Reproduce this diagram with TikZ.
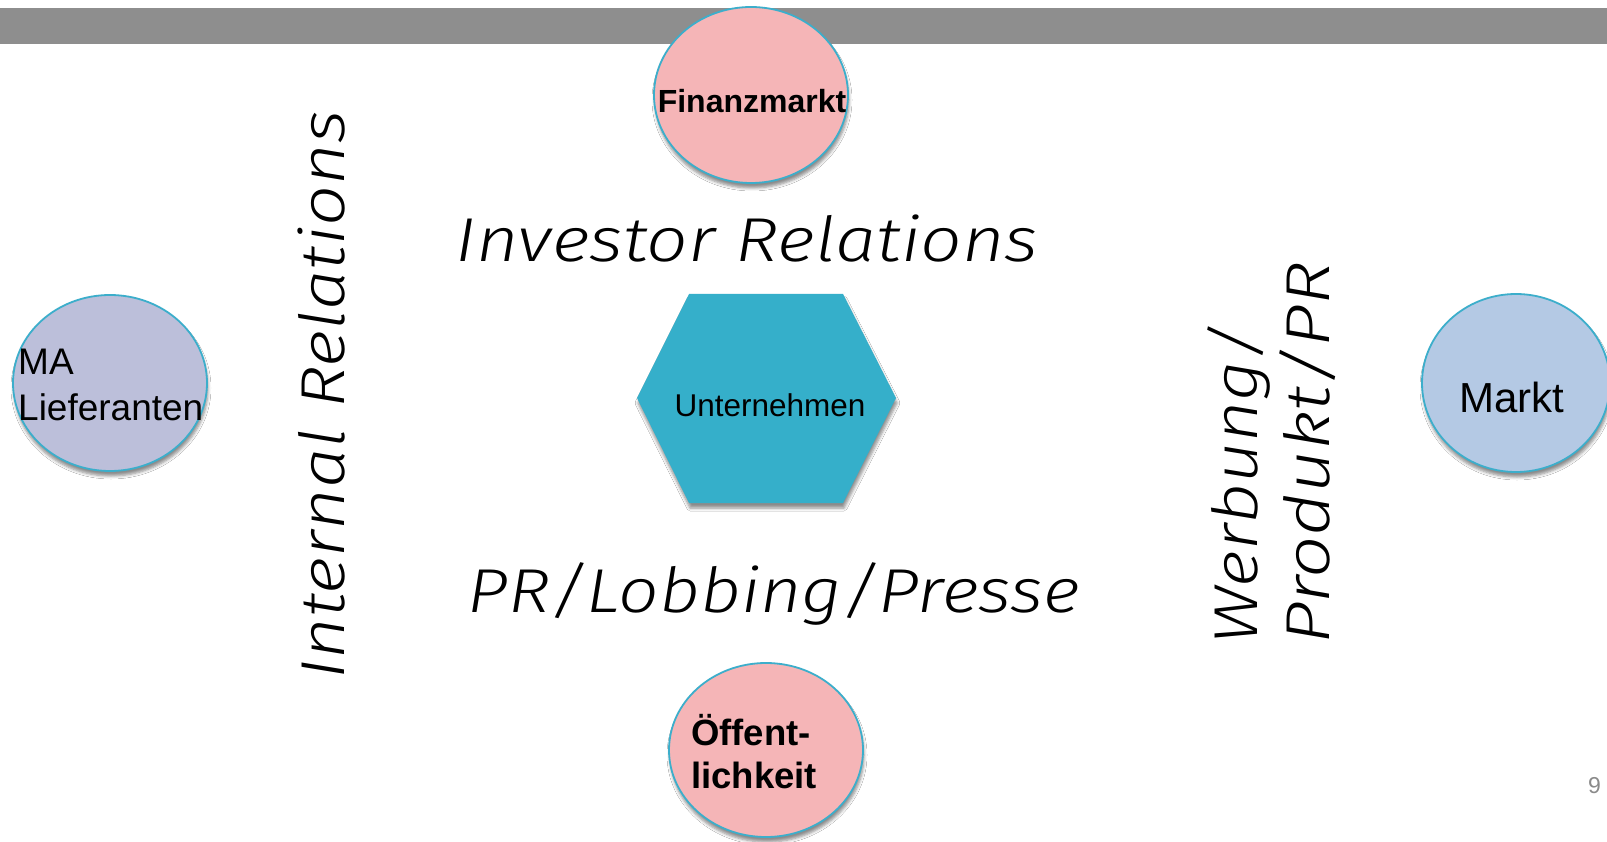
\documentclass[tikz,border=0pt]{standalone}
\usepackage{fontspec}
\usepackage{graphicx}
\setmainfont{Liberation Sans}
\newfontfamily\handfont{Fira Sans Light Italic}
\usetikzlibrary{shapes.geometric,shadows.blur}

\definecolor{barGray}{HTML}{8E8E8E}
\definecolor{rimBlue}{HTML}{3CAECB}
\definecolor{pinkFill}{HTML}{F5B5B7}
\definecolor{lilacFill}{HTML}{BCBFDA}
\definecolor{skyFill}{HTML}{B4C9E4}
\definecolor{hexFill}{HTML}{35AFCA}
\definecolor{pageGray}{HTML}{8A8A8A}

\newcommand{\wide}[2]{\scalebox{#1}[1]{#2}}

\tikzset{
  softshadow/.style={blur shadow={shadow xshift=1pt, shadow yshift=-5pt,
      shadow blur radius=3pt, shadow blur steps=5, shadow opacity=45}},
  partner/.style={ellipse, draw=rimBlue, line width=1.8pt, inner sep=0pt,
      minimum width=194pt, minimum height=176pt, softshadow},
  plainlbl/.style={inner sep=0pt, text=black, font=\fontsize{37}{46}\selectfont},
  boldlbl/.style={inner sep=0pt, text=black, font=\bfseries\fontsize{32}{40}\selectfont},
  hand/.style={inner sep=0pt, text=black, font=\handfont\fontsize{62}{72}\selectfont},
}

\begin{document}
\begin{tikzpicture}[x=1pt, y=-1pt]
\useasboundingbox (0,0) rectangle (1607,842);
\fill[white] (0,0) rectangle (1607,842);

% title bar
\fill[barGray] (0,8) rectangle (1607,44);

% the company in the middle
\path[fill=hexFill, softshadow]
  (689,294) -- (843,294) -- (896,398) -- (843,503) -- (689,503) -- (637,398) -- cycle;
\node[inner sep=0pt, font=\fontsize{31.5}{38}\selectfont, anchor=base] (unt) at (770,417) {Unternehmen};

% stakeholder groups
\node[partner, fill=pinkFill] (fin) at (751,95) {};
\node[boldlbl, anchor=base] (finlbl) at (752,113) {Finanzmarkt};

\node[partner, fill=lilacFill] (ma) at (110,383) {};
\node[plainlbl, anchor=base west, align=left] (malbl) at (18,420) {MA\\Lieferanten};

\node[partner, fill=skyFill, minimum width=188pt, minimum height=178pt] (mkt) at (1516,383) {};
\node[inner sep=0pt, font=\fontsize{42}{50}\selectfont, anchor=base] (mktlbl) at (1512,412) {Markt};

\node[partner, fill=pinkFill, minimum height=174pt] (oef) at (766,750) {};
\node[inner sep=0pt, anchor=base west, align=left,
      font=\bfseries\fontsize{36.5}{43}\selectfont] (oeflbl) at (691,788) {Öffent-\\lichkeit};

% relation channels
\node[hand] (inv) at (747,238) {\wide{1.18}{Investor Relations}};
\node[hand] (prl) at (774,594) {\wide{1.15}{PR/Lobbing/Presse}};
\node[hand, rotate=90] (int) at (321,395) {\wide{1.16}{Internal Relations}};
\node[hand, rotate=90, align=left] (wpp) at (1272,453) {\wide{1.15}{Werbung/}\\\wide{1.2}{Produkt/PR}};

% page number
\node[inner sep=0pt, anchor=base east, text=pageGray, font=\fontsize{23}{27}\selectfont] (pg) at (1601,793) {9};
\end{tikzpicture}
\end{document}
